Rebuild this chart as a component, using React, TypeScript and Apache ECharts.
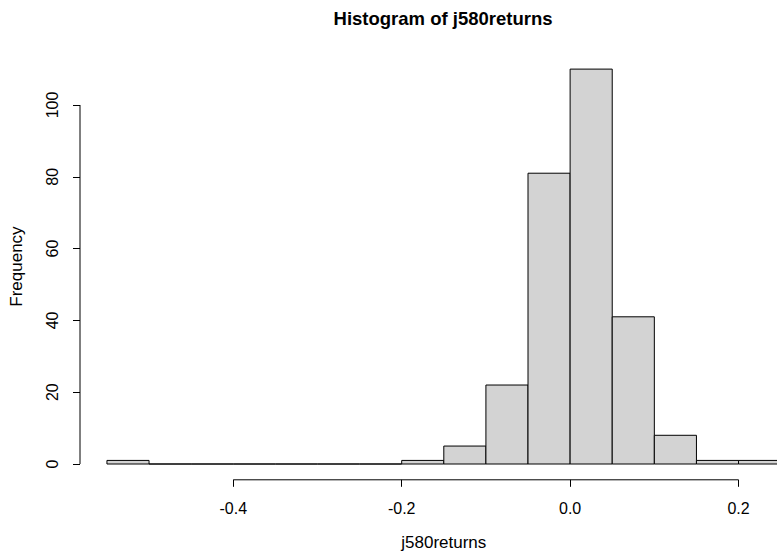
import React, { useEffect, useRef } from "react";
import * as echarts from "echarts";

// Histogram data (bins of width 0.05 starting at -0.55)
const binStart = -0.55;
const binWidth = 0.05;
const counts = [1, 0, 0, 0, 0, 0, 0, 1, 5, 22, 81, 110, 41, 8, 1, 1];
const xTicks = [-0.4, -0.2, 0.0, 0.2];
const xTickLabels = ["-0.4", "-0.2", "0.0", "0.2"];
const yTicks = [0, 20, 40, 60, 80, 100];

const titleText = "Histogram of j580returns";
const xName = "j580returns";
const yName = "Frequency";

export default function App() {
  const ref = useRef<HTMLDivElement>(null);
  useEffect(() => {
    if (!ref.current) return;
    const chart = echarts.init(ref.current, null, { renderer: "svg" });
    const nBins = counts.length;
    const dataMin = binStart;
    const dataMax = binStart + nBins * binWidth;
    const xPad = (dataMax - dataMin) * 0.04;
    const xMin = dataMin - xPad;
    const xMax = dataMax + xPad;
    const yTop = Math.max(...counts);
    const yMin = -yTop * 0.04;
    const yMax = yTop * 1.04;

    const bars = counts.map((c, i) => [
      +(binStart + i * binWidth).toFixed(4),
      +(binStart + (i + 1) * binWidth).toFixed(4),
      c,
    ]);

    const font = "'Liberation Sans', Arial, sans-serif";

    chart.setOption({
      animation: false,
      backgroundColor: "#ffffff",
      graphic: [
        {
          type: "text",
          x: 443,
          y: 18,
          style: {
            text: titleText,
            font: `bold 18.5px ${font}`,
            fill: "#000",
            align: "center",
            verticalAlign: "middle",
          },
        },
      ],
      grid: {
        left: 80,
        top: 53.3,
        width: 727.6,
        height: 426.5,
        containLabel: false,
        outerBoundsMode: "none",
      },
      xAxis: {
        type: "value",
        min: xMin,
        max: xMax,
        name: xName,
        nameLocation: "middle",
        nameGap: 54.5,
        nameTextStyle: { fontFamily: font, fontSize: 17, color: "#000" },
        axisLine: { show: false, onZero: false },
        splitLine: { show: false },
        axisTick: {
          show: true,
          length: 7,
          customValues: xTicks,
          lineStyle: { color: "#000", width: 1 },
        },
        axisLabel: {
          show: true,
          customValues: xTicks,
          margin: 21,
          fontFamily: font,
          fontSize: 16,
          color: "#000",
          formatter: (v: number) => {
            const idx = xTicks.findIndex((t) => Math.abs(t - v) < 1e-9);
            return idx >= 0 ? xTickLabels[idx] : "";
          },
        },
      },
      yAxis: {
        type: "value",
        min: yMin,
        max: yMax,
        name: yName,
        nameLocation: "middle",
        nameGap: 55.5,
        nameTextStyle: { fontFamily: font, fontSize: 17, color: "#000" },
        axisLine: { show: false, onZero: false },
        splitLine: { show: false },
        axisTick: {
          show: true,
          length: 7,
          customValues: yTicks,
          lineStyle: { color: "#000", width: 1 },
        },
        axisLabel: {
          show: true,
          customValues: yTicks,
          rotate: 90,
          margin: 19.5,
          fontFamily: font,
          fontSize: 16,
          color: "#000",
        },
      },
      series: [
        {
          type: "custom",
          data: bars,
          clip: false,
          renderItem: (params: any, api: any) => {
            const s = api.value(0);
            const e = api.value(1);
            const c = api.value(2);
            const p0 = api.coord([s, c]);
            const p1 = api.coord([e, 0]);
            return {
              type: "rect",
              shape: { x: p0[0], y: p0[1], width: p1[0] - p0[0], height: p1[1] - p0[1] },
              style: { fill: "#D3D3D3", stroke: "#000", lineWidth: 1 },
            };
          },
        },
        {
          type: "custom",
          data: [[xTicks[0], xTicks[xTicks.length - 1]]],
          clip: false,
          silent: true,
          renderItem: (params: any, api: any) => {
            const a = api.coord([api.value(0), yMin]);
            const b = api.coord([api.value(1), yMin]);
            return {
              type: "line",
              shape: { x1: a[0], y1: a[1], x2: b[0], y2: b[1] },
              style: { stroke: "#000", lineWidth: 1 },
            };
          },
        },
        {
          type: "custom",
          data: [[yTicks[0], yTicks[yTicks.length - 1]]],
          clip: false,
          silent: true,
          renderItem: (params: any, api: any) => {
            const a = api.coord([xMin, api.value(0)]);
            const b = api.coord([xMin, api.value(1)]);
            return {
              type: "line",
              shape: { x1: a[0], y1: a[1], x2: b[0], y2: b[1] },
              style: { stroke: "#000", lineWidth: 1 },
            };
          },
        },
      ],
    });
    return () => chart.dispose();
  }, []);
  return (
    <div
      ref={ref}
      style={{ position: "absolute", left: 0, top: 0, width: 777, height: 553, background: "#fff" }}
    />
  );
}
